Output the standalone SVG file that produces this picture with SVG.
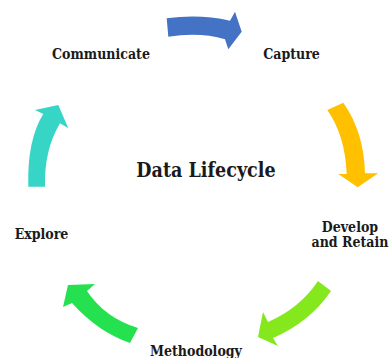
<svg xmlns="http://www.w3.org/2000/svg" width="390" height="358" viewBox="0 0 390 358">
  <style>
    .lbl { font-family: "DejaVu Serif Condensed", "DejaVu Serif", serif; font-weight: bold; font-size: 14px; fill: #1a1a1a; text-anchor: middle; }
    .title { font-size: 19.5px; }
  </style>
  <rect width="390" height="358" fill="#ffffff"/>

  <!-- curved arrows running clockwise around the cycle -->
  <g id="connectors">
    <path id="arrow-communicate-capture" fill="#4472C4" d="M166.7,18.3 Q200,14 230,20.7 L235,11.7 L241.7,31.7 L228.3,49.3 L225,39.3 Q200,32 168.3,36.7 Z"/>
    <path id="arrow-capture-develop" fill="#FFC000" d="M327.3,110 L343.3,102.7 Q364,132 365,173.3 L378.3,173.3 L357.7,187.3 L338.3,174 L346.7,174 Q345,135 327.3,110 Z"/>
    <path id="arrow-develop-methodology" fill="#84E81C" d="M318,281 L331,291 Q310,322 273,338 L278,346 L258,337 L263,312 L268,322 Q300,308 318,281 Z"/>
    <path id="arrow-methodology-explore" fill="#25E150" d="M130,343 L138,328 Q105,318 87,291 L95,284 L68,285 L63,307 L72,303 Q98,332 130,343 Z"/>
    <path id="arrow-explore-communicate" fill="#36D5C5" d="M28.3,186.7 Q27,140 43.3,114 L35,110 L58.3,105 L68.3,128.3 L60,123.3 Q44,150 45,186.7 Z"/>
  </g>

  <g id="node-title"><text class="lbl title" x="206" y="177">Data Lifecycle</text></g>
  <g id="node-communicate"><text class="lbl" x="101" y="59">Communicate</text></g>
  <g id="node-capture"><text class="lbl" x="291.5" y="59">Capture</text></g>
  <g id="node-develop">
    <text class="lbl" x="350" y="232">Develop</text>
    <text class="lbl" x="350" y="247">and Retain</text>
  </g>
  <g id="node-methodology"><text class="lbl" x="196" y="356">Methodology</text></g>
  <g id="node-explore"><text class="lbl" x="41.5" y="239">Explore</text></g>
</svg>
